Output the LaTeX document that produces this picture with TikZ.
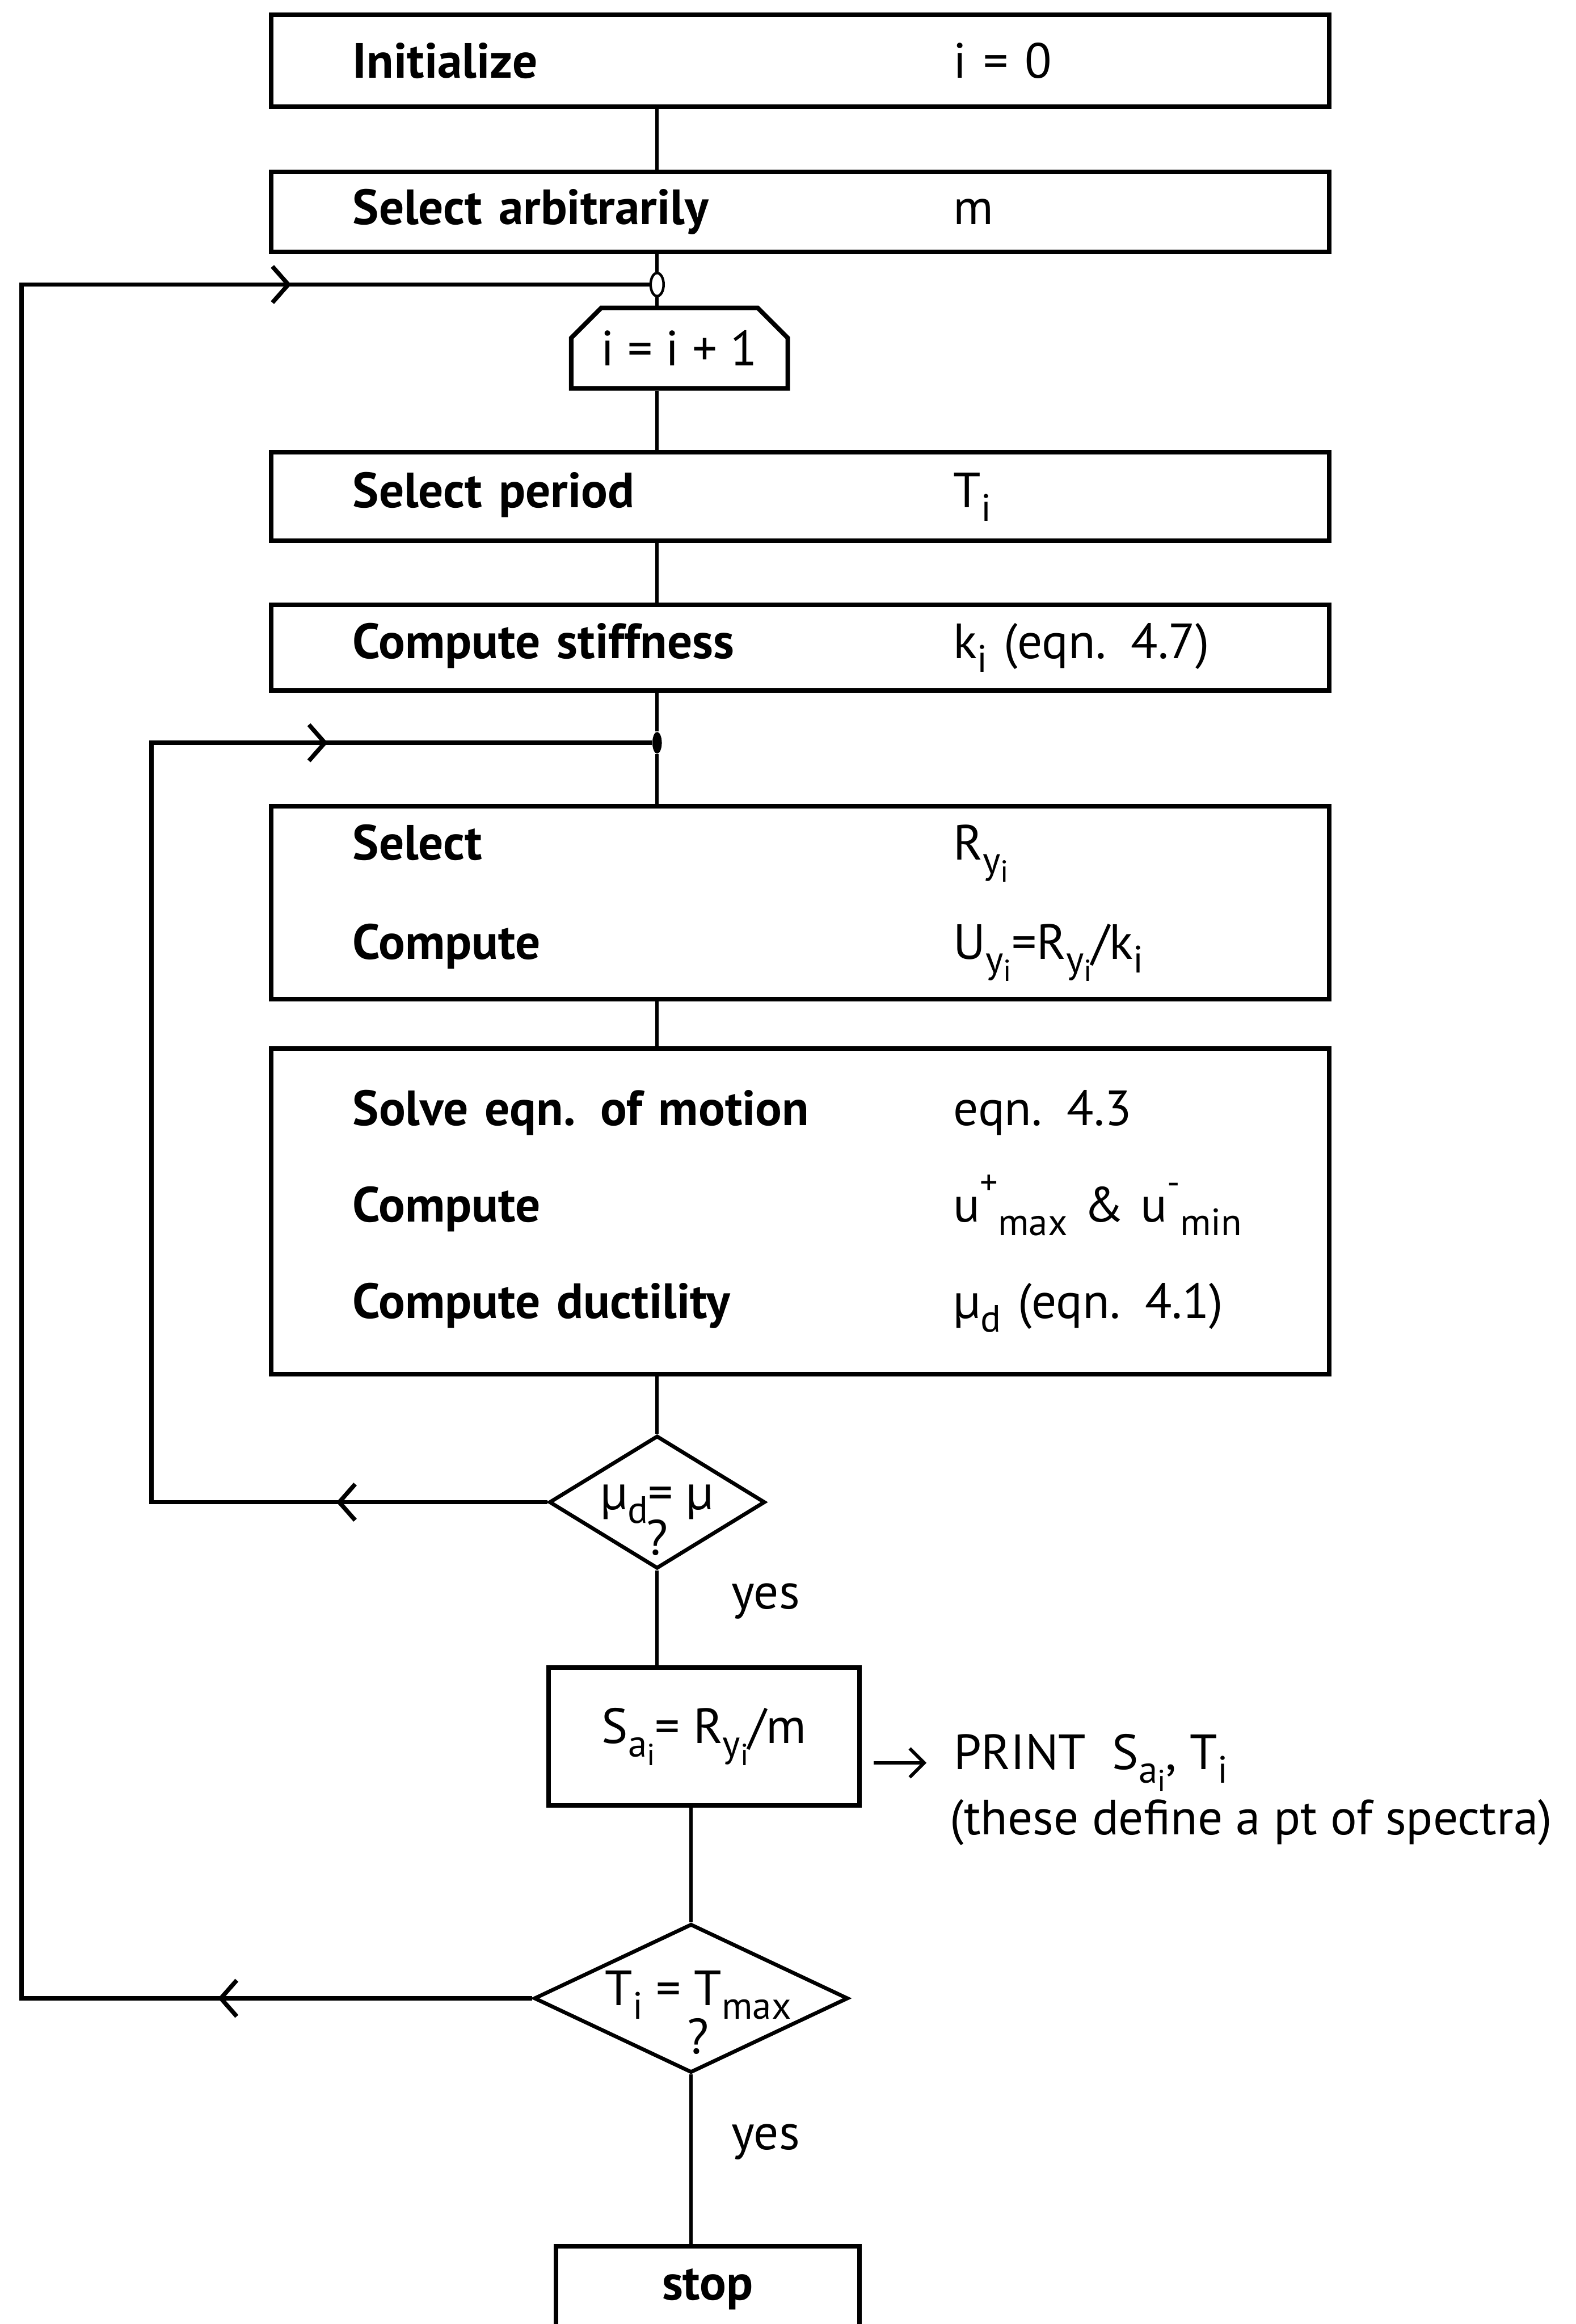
\documentclass[tikz,border=0pt]{standalone}
\usepackage{fontspec}
\setmainfont{PT Sans}
\usepackage{tikz}
\usetikzlibrary{shapes.geometric, shapes.misc, arrows.meta, positioning, calc, decorations.markings}
\tikzstyle{process} = [rectangle, draw, line width=1.8pt, text width=12.39cm, inner xsep=1.13cm, align=left]
\tikzstyle{smallbox} = [rectangle, draw, line width=1.8pt, align=center]
\tikzstyle{counter} = [chamfered rectangle, chamfered rectangle corners={north west, north east}, chamfered rectangle xsep=0.3cm, draw, line width=1.8pt, minimum width=2.62cm, minimum height=1.115cm]
\tikzstyle{decision} = [diamond, draw, line width=1.5pt, inner sep=0pt]
\tikzstyle{fork} = [ellipse, draw, line width=1pt, minimum width=0.18cm, minimum height=0.32cm, inner sep=0pt]
\tikzstyle{joint} = [ellipse, fill, minimum width=0.13cm, minimum height=0.3cm, inner sep=0pt]
\tikzstyle{tag} = [inner sep=0pt, anchor=west]
\tikzstyle{link} = [line width=1.3pt]
\tikzstyle{flow} = [line width=1.3pt, -{Straight Barb[length=2mm,width=4mm]}]
\tikzset{loopback/.style 2 args={line width=1.7pt, postaction={decorate}, decoration={markings,
    mark=at position #1 with {\arrow{Straight Barb[length=2.2mm,width=5mm]}},
    mark=at position #2 with {\arrow{Straight Barb[length=2.2mm,width=5mm]}}}}}
\newcommand{\boxrow}[2]{\makebox[8.32cm][l]{\bfseries #1}#2}
\newcommand{\subtxt}[1]{\raisebox{-0.55ex}{\fontsize{15}{17}\selectfont #1}}
\newcommand{\subsubtxt}[1]{\raisebox{-0.45ex}{\fontsize{12}{14}\selectfont #1}}
\newcommand{\suptxt}[1]{\raisebox{1.1ex}{\fontsize{14}{16}\selectfont #1}}

\begin{document}
\begin{tikzpicture}[font=\fontsize{19.5}{23}\selectfont]
    \useasboundingbox (0,0) rectangle (21.82,-32.18);
    \coordinate (spine) at (9.1,0);
    \coordinate (outerx) at (0.3,0);
    \coordinate (innerx) at (2.1,0);

    % Inicio
    \node (init) [process, minimum height=1.275cm] at (11.08,-0.84) {\boxrow{Initialize}{i = 0}};
    \node (arb) [process, below=0.84cm of init, minimum height=1.11cm] {\boxrow{Select arbitrarily}{m}};

    % Periodo
    \node (j1) [fork] at (9.1,-3.94) {};
    \node (incr) [counter] at (9.41,-4.82) {i = i + 1};
    \node (period) [process, minimum height=1.23cm] at (11.08,-6.875) {\boxrow{Select period}{T\subtxt{i}}};
    \node (stiff) [process, below=0.82cm of period, minimum height=1.19cm] {\boxrow{Compute stiffness}{k\subtxt{i} (eqn. 4.7)}};

    % Fluencia y respuesta
    \node (j2) [joint] at (9.1,-10.285) {};
    \node (yield) [process, below=1.54cm of stiff, minimum height=2.67cm] {\boxrow{Select}{R\subtxt{y\subsubtxt{i}}}\\[16pt]
        \boxrow{Compute}{U\subtxt{y\subsubtxt{i}}=R\subtxt{y\subsubtxt{i}}/k\subtxt{i}}};
    \node (motion) [process, below=0.62cm of yield, minimum height=4.51cm] {\boxrow{Solve eqn. of motion}{eqn. 4.3}\\[15pt]
        \boxrow{Compute}{u\suptxt{+}\subtxt{max} \& u\suptxt{-}\subtxt{min}}\\[15pt]
        \boxrow{Compute ductility}{μ\subtxt{d} (eqn. 4.1)}};

    % Decisiones
    \node (check) [decision, minimum width=2.99cm, minimum height=1.84cm,
        label={[align=center, yshift=-0.25cm]center:μ\subtxt{d}= μ\\[-5pt]?}] at (9.1,-20.8) {};
    \node (yes1) [tag] at (10.12,-22.17) {yes};
    \node (spec) [smallbox, minimum width=4.3cm, minimum height=1.91cm] at (9.75,-24.045) {S\subtxt{a\subsubtxt{i}}= R\subtxt{y\subsubtxt{i}}/m};
    \node (print) [tag, anchor=base west] at (13.2,-24.5) {PRINT\ \ S\subtxt{a\subsubtxt{i}}, T\subtxt{i}};
    \node (note) [tag, anchor=base west] at (13.15,-25.4) {(these define a pt of spectra)};
    \node (tcheck) [decision, minimum width=4.35cm, minimum height=2.06cm,
        label={[align=center, xshift=0.1cm, yshift=-0.2cm]center:T\subtxt{i} = T\subtxt{max}\\[-4pt]?}] at (9.57,-27.67) {};
    \node (yes2) [tag] at (10.12,-29.66) {yes};
    \node (stop) [smallbox, minimum width=4.2cm, minimum height=1.2cm] at (9.8,-31.7) {\bfseries stop};

    % Lineas
    \draw [link] (init.south -| spine) -- (arb.north -| spine);
    \draw [link] (arb.south -| spine) -- (j1);
    \draw [link] (j1) -- (incr.north -| spine);
    \draw [link] (incr.south -| spine) -- (period.north -| spine);
    \draw [link] (period.south -| spine) -- (stiff.north -| spine);
    \draw [link] (stiff.south -| spine) -- (j2);
    \draw [link] (j2) -- (yield.north -| spine);
    \draw [link] (yield.south -| spine) -- (motion.north -| spine);
    \draw [link] (motion.south -| spine) -- (check.north);
    \draw [link] (check.south) -- (spec.north -| check.south);
    \draw [link] (spec.south -| tcheck.north) -- (tcheck.north);
    \draw [link] (tcheck.south) -- (stop.north -| tcheck.south);
    \draw [flow, shorten <=0.17cm, shorten >=0.37cm] (spec.east |- print.west) -- (print.west);

    % Lazos
    \draw [loopback={2.92cm}{-4.49cm}] (check.west) -- (check.west -| innerx) |- (j2);
    \draw [loopback={4.35cm}{-4.96cm}] (tcheck.west) -- (tcheck.west -| outerx) |- (j1);
\end{tikzpicture}
\end{document}
